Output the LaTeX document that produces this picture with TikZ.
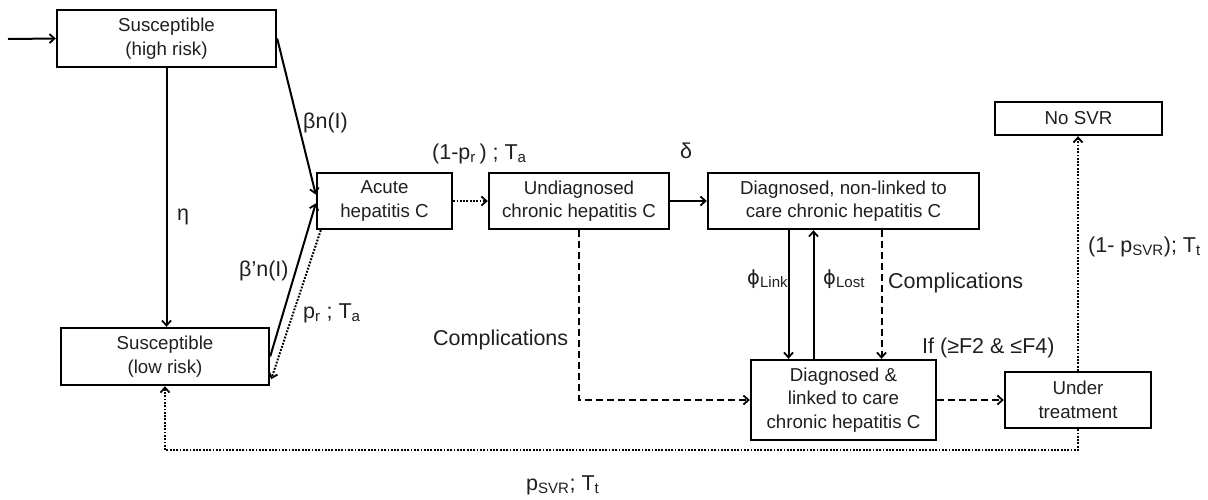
\documentclass[tikz,border=0pt]{standalone}
\usepackage{fontspec}
\setmainfont{Liberation Sans}
\newfontfamily\dvsfont{DejaVu Sans}
\usetikzlibrary{arrows.meta,calc}
\newcommand\bxfont{\fontsize{18.7}{23.5}\selectfont}
\newcommand\lbfont{\fontsize{21.5}{26}\selectfont}
\newcommand\phisym{{\dvsfont\fontsize{19.5}{26}\selectfont ϕ}}
\begin{document}
\begin{tikzpicture}[x=1pt,y=-1pt,
  box/.style={draw, line width=2.4pt, inner sep=0pt, align=center, font=\bxfont, text=black!88},
  arr/.style={line width=2pt, -{Straight Barb[length=5pt,width=9pt,line width=1.8pt]}},
  dotline/.style={dash pattern=on 1.8pt off 1.5pt},
  dashline/.style={dash pattern=on 6.5pt off 4.5pt},
  lab/.style={anchor=base west, inner sep=0pt, font=\lbfont, text=black!88}]
\useasboundingbox (0,0) rectangle (1208,499);
% boxes
\node[box, minimum width=219pt, minimum height=57pt] (hi) at (166.5,38.5) {Susceptible\\(high risk)};
\node[box, minimum width=208pt, minimum height=57pt] (lo) at (165,356.5) {Susceptible\\(low risk)};
\node[box, minimum width=135pt, minimum height=56pt] (ac) at (384.5,201) {Acute\\hepatitis C};
\node[box, minimum width=180pt, minimum height=56pt] (un) at (579,201) {Undiagnosed\\chronic hepatitis C};
\node[box, minimum width=271pt, minimum height=56pt] (dn) at (843.5,201) {Diagnosed, non-linked to\\care chronic hepatitis C};
\node[box, minimum width=167pt, minimum height=33pt] (nosvr) at (1078.5,118.5) {No SVR};
\node[box, minimum width=185pt, minimum height=80pt] (lk) at (843.5,400) {Diagnosed \&\\linked to care\\chronic hepatitis C};
\node[box, minimum width=146pt, minimum height=56pt] (ut) at (1078,400) {Under\\treatment};
% helper coordinates
\coordinate (in) at (8,39);
\coordinate (ac1) at ($(ac.north west)!0.39!(ac.south west)$);
\coordinate (ac2) at ($(ac.north west)!0.54!(ac.south west)$);
\coordinate (ac3) at ($(ac.south west)+(5,0)$);
\coordinate (lo3) at ($(lo.south east)+(1,-7)$);
\coordinate (bot) at (600,450);
% connectors
\draw[arr] (in) -- (hi.west);
\draw[arr] (hi.south) -- (hi.south |- lo.north);
\draw[arr] (hi.east) -- (ac1);
\draw[arr] (lo.east) -- (ac2);
\draw[arr,dotline] (ac3) -- (lo3);
\draw[arr,dotline] (ac.east) -- (un.west);
\draw[arr] (un.east) -- (dn.west);
\draw[arr,dashline] (un.south) |- (lk.west);
\draw[arr] ($(dn.south)+(-55,0)$) -- ($(lk.north)+(-55,0)$);
\draw[arr] ($(lk.north)+(-30,0)$) -- ($(dn.south)+(-30,0)$);
\draw[arr,dashline] ($(dn.south)+(38,0)$) -- ($(lk.north)+(38,0)$);
\draw[arr,dashline] (lk.east) -- (ut.west);
\draw[arr,dotline] (ut.north) -- (ut.north |- nosvr.south);
\draw[arr,dotline] (ut.south) |- (bot) -| (lo.south);
% labels
\node[lab] (l1) at (303,128) {βn(I)};
\node[lab] (l2) at (432,159) {(1-p\textsubscript{r}\,) ; T\textsubscript{a}};
\node[lab] (l3) at (680,158) {δ};
\node[lab] (l4) at (177,220.5) {η};
\node[lab] (l5) at (239,276) {β’n(I)};
\node[lab] (l6) at (303,318) {p\textsubscript{r} ; T\textsubscript{a}};
\node[lab] (l7) at (433,345) {Complications};
\node[lab] (l8) at (747,284) {\phisym\textsubscript{Link}};
\node[lab] (l9) at (823,284) {\phisym\textsubscript{Lost}};
\node[lab] (l10) at (888,288) {Complications};
\node[lab] (l11) at (922,353) {If (≥F2 \& ≤F4)};
\node[lab] (l12) at (1088,252) {(1- p\textsubscript{SVR}); T\textsubscript{t}};
\node[lab] (l13) at (526,490) {p\textsubscript{SVR}; T\textsubscript{t}};
\end{tikzpicture}
\end{document}
